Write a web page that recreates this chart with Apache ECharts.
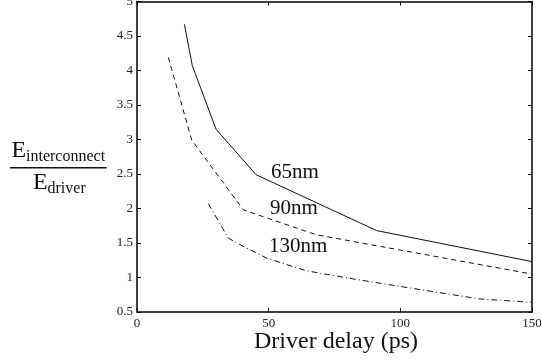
<!DOCTYPE html>
<html>
<head>
<meta charset="utf-8">
<script src="https://cdn.jsdelivr.net/npm/echarts@6/dist/echarts.min.js"></script>
<style>html,body{margin:0;padding:0;background:#fff}#c{width:542px;height:362px}</style>
</head>
<body>
<div id="c"></div>
<script>
// Data (x = driver delay in ps, y = energy ratio)
const x65 = [18.0, 21.0, 30.0, 45.2, 91.0, 150.0];
const y65 = [4.67, 4.07, 3.15, 2.49, 1.68, 1.23];
const x90 = [11.9, 20.8, 40.4, 68.0, 150.0];
const y90 = [4.19, 2.99, 1.98, 1.62, 1.05];
const x130 = [27.1, 34.7, 40.4, 49.3, 64.0, 82.0, 100.0, 130.0, 150.0];
const y130 = [2.07, 1.57, 1.45, 1.28, 1.10, 0.98, 0.87, 0.69, 0.64];
const seriesNames = ['65nm', '90nm', '130nm'];
const xTicks = [0, 50, 100, 150];
const yTicks = [0.5, 1, 1.5, 2, 2.5, 3, 3.5, 4, 4.5, 5];

const zip = (xs, ys) => xs.map((v, i) => [v, ys[i]]);
const FONT = 'Liberation Serif';
const chart = echarts.init(document.getElementById('c'), null, {renderer: 'canvas'});

const axisBase = {
  axisLine: {show: true, onZero: false, lineStyle: {color: '#000', width: 1.5}},
  axisTick: {show: true, inside: true, length: 4, lineStyle: {color: '#000', width: 1}},
  splitLine: {show: false}
};

chart.setOption({
  animation: false,
  backgroundColor: '#fff',
  grid: {left: 137, right: 10, top: 1.5, bottom: 50, show: false, outerBoundsMode: 'none'},
  xAxis: [
    Object.assign({}, axisBase, {
      type: 'value', position: 'bottom', min: xTicks[0], max: xTicks[xTicks.length - 1], interval: 50,
      axisLabel: {show: true, margin: 5, color: '#222', fontFamily: FONT, fontSize: 13, showMinLabel: true, showMaxLabel: true}
    }),
    Object.assign({}, axisBase, {
      type: 'value', position: 'top', min: xTicks[0], max: xTicks[xTicks.length - 1], interval: 50,
      axisLabel: {show: false}
    })
  ],
  yAxis: [
    Object.assign({}, axisBase, {
      type: 'value', position: 'left', min: yTicks[0], max: yTicks[yTicks.length - 1], interval: 0.5,
      axisLabel: {show: true, margin: 4, color: '#222', fontFamily: FONT, fontSize: 13, showMinLabel: true, showMaxLabel: true}
    }),
    Object.assign({}, axisBase, {
      type: 'value', position: 'right', min: yTicks[0], max: yTicks[yTicks.length - 1], interval: 0.5,
      axisLabel: {show: false}
    })
  ],
  series: [
    {name: seriesNames[0], type: 'line', data: zip(x65, y65), showSymbol: false, symbol: 'none',
     lineStyle: {color: '#111', width: 1, type: 'solid'}},
    {name: seriesNames[1], type: 'line', data: zip(x90, y90), showSymbol: false, symbol: 'none',
     lineStyle: {color: '#111', width: 1, type: [5, 4]}},
    {name: seriesNames[2], type: 'line', data: zip(x130, y130), showSymbol: false, symbol: 'none',
     lineStyle: {color: '#111', width: 1, type: [6, 3, 1, 3]}}
  ],
  graphic: [
    // curve labels
    {type: 'text', x: 271, y: 172, style: {text: seriesNames[0], font: '21px "Liberation Serif"', fill: '#111', verticalAlign: 'middle'}},
    {type: 'text', x: 270, y: 208, style: {text: seriesNames[1], font: '21px "Liberation Serif"', fill: '#111', verticalAlign: 'middle'}},
    {type: 'text', x: 269, y: 246, style: {text: seriesNames[2], font: '21px "Liberation Serif"', fill: '#111', verticalAlign: 'middle'}},
    // x axis title
    {type: 'text', x: 336, y: 342, style: {text: 'Driver delay (ps)', font: '24px "Liberation Serif"', fill: '#111', align: 'center', verticalAlign: 'middle'}},
    // y axis title as a fraction
    {type: 'text', x: 11.5, y: 151, style: {text: 'E', font: '24px "Liberation Serif"', fill: '#111', verticalAlign: 'middle'}},
    {type: 'text', x: 26, y: 156.3, style: {text: 'interconnect', font: '16px "Liberation Serif"', fill: '#111', verticalAlign: 'middle'}},
    {type: 'line', shape: {x1: 10, y1: 167.7, x2: 106.7, y2: 167.7}, style: {stroke: '#111', lineWidth: 1.4}},
    {type: 'text', x: 33, y: 183, style: {text: 'E', font: '24px "Liberation Serif"', fill: '#111', verticalAlign: 'middle'}},
    {type: 'text', x: 47.5, y: 188.6, style: {text: 'driver', font: '16px "Liberation Serif"', fill: '#111', verticalAlign: 'middle'}}
  ]
});
</script>
</body>
</html>
